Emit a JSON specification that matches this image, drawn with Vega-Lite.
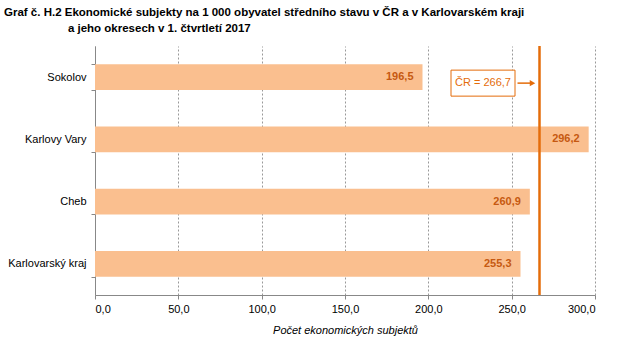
{
  "$schema": "https://vega.github.io/schema/vega-lite/v6.json",
  "width": 500,
  "height": 249,
  "autosize": "none",
  "padding": {"left": 95, "top": 46, "right": 31, "bottom": 56},
  "background": "white",
  "config": {
    "view": {"stroke": null},
    "locale": {"number": {"decimal": ",", "thousands": " ", "grouping": [3], "currency": ["", " Kč"]}},
    "font": "Liberation Sans"
  },
  "title": {
    "text": ["Graf č. H.2 Ekonomické subjekty na 1 000 obyvatel středního stavu v ČR a v Karlovarském kraji", "\u200b\u00a0\u00a0\u00a0\u00a0\u00a0\u00a0\u00a0\u00a0\u00a0\u00a0\u00a0\u00a0\u00a0\u00a0\u00a0\u00a0\u00a0\u00a0\u00a0\u00a0a jeho okresech v 1. čtvrtletí 2017"],
    "anchor": "start",
    "frame": "group",
    "dx": -91,
    "offset": 6,
    "font": "Liberation Sans",
    "fontSize": 11.5,
    "fontWeight": "bold",
    "color": "#000000",
    "lineHeight": 16
  },
  "datasets": {
    "main": [
      {"oblast": "Sokolov", "hodnota": 196.5},
      {"oblast": "Karlovy Vary", "hodnota": 296.2},
      {"oblast": "Cheb", "hodnota": 260.9},
      {"oblast": "Karlovarský kraj", "hodnota": 255.3}
    ],
    "cr": [{"cr": 266.7}],
    "anot": [{"oblast": "Sokolov", "x1": 213.6, "x2": 252, "xm": 232.8, "label": "ČR = 266,7", "a1": 253.5, "a2": 262, "tip": 262.5}]
  },
  "layer": [
    {
      "data": {"name": "main"},
      "mark": {"type": "bar", "color": "#FABF8F"},
      "encoding": {
        "y": {
          "field": "oblast", "type": "nominal", "sort": null, "title": null,
          "scale": {"paddingInner": 0.59, "paddingOuter": 0.295},
          "axis": {"tickBand": "extent", "domainColor": "#888888", "tickColor": "#888888", "tickSize": 4, "labelPadding": 5, "labelFontSize": 11, "labelColor": "#000000", "labelFont": "Liberation Sans"}
        },
        "x": {
          "field": "hodnota", "type": "quantitative",
          "scale": {"domain": [0, 300], "nice": false},
          "axis": {"values": [0, 50, 100, 150, 200, 250, 300], "format": ".1f", "grid": true, "gridDash": [2, 2], "gridColor": "#999999", "domainColor": "#888888", "tickColor": "#888888", "tickSize": 4, "labelFontSize": 11, "labelColor": "#000000", "labelFont": "Liberation Sans", "labelPadding": 4,
            "title": "Počet ekonomických subjektů", "titleFontStyle": "italic", "titleFontWeight": "normal", "titleFontSize": 11, "titleColor": "#000000", "titleFont": "Liberation Sans", "titlePadding": 10}
        }
      }
    },
    {
      "data": {"name": "main"},
      "mark": {"type": "text", "align": "right", "dx": -9, "fontWeight": "bold", "fontSize": 11, "color": "#C65911", "font": "Liberation Sans"},
      "encoding": {
        "y": {"field": "oblast", "type": "nominal", "sort": null},
        "x": {"field": "hodnota", "type": "quantitative"},
        "text": {"field": "hodnota", "type": "quantitative", "format": ".1f"}
      }
    },
    {
      "data": {"name": "cr"},
      "mark": {"type": "rule", "color": "#E46C0A", "strokeWidth": 2.5},
      "encoding": {"x": {"field": "cr", "type": "quantitative"}}
    },
    {
      "data": {"name": "anot"},
      "mark": {"type": "bar", "fill": "white", "stroke": "#E46C0A", "strokeWidth": 1, "size": 26, "yOffset": 6},
      "encoding": {
        "y": {"field": "oblast", "type": "nominal", "sort": null},
        "x": {"field": "x1", "type": "quantitative"},
        "x2": {"field": "x2"}
      }
    },
    {
      "data": {"name": "anot"},
      "mark": {"type": "text", "align": "center", "yOffset": 6, "fontSize": 11, "color": "#E46C0A", "font": "Liberation Sans"},
      "encoding": {
        "y": {"field": "oblast", "type": "nominal", "sort": null},
        "x": {"field": "xm", "type": "quantitative"},
        "text": {"field": "label"}
      }
    },
    {
      "data": {"name": "anot"},
      "mark": {"type": "rule", "color": "#E46C0A", "strokeWidth": 1.5, "yOffset": 6},
      "encoding": {
        "y": {"field": "oblast", "type": "nominal", "sort": null},
        "x": {"field": "a1", "type": "quantitative"},
        "x2": {"field": "a2"}
      }
    },
    {
      "data": {"name": "anot"},
      "mark": {"type": "point", "shape": "triangle-right", "filled": true, "color": "#E46C0A", "opacity": 1, "size": 40, "yOffset": 6},
      "encoding": {
        "y": {"field": "oblast", "type": "nominal", "sort": null},
        "x": {"field": "tip", "type": "quantitative"}
      }
    }
  ]
}
